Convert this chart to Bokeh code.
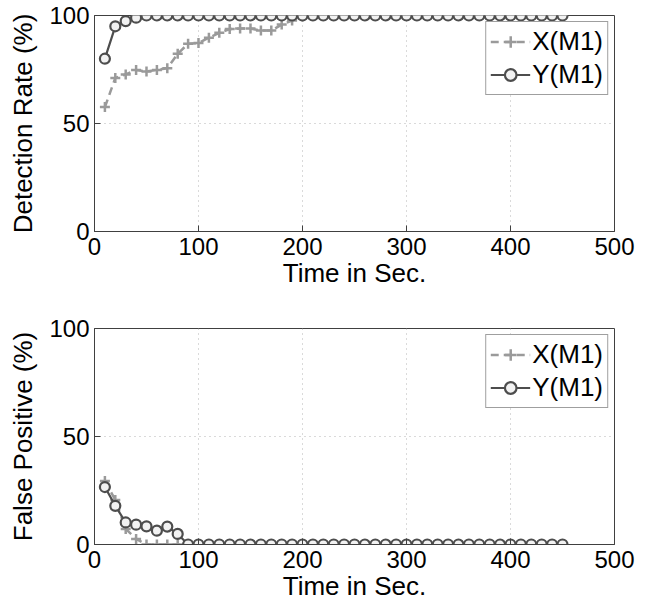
from bokeh.plotting import figure
from bokeh.layouts import column
from bokeh.models import FixedTicker
from bokeh.embed import file_html
from bokeh.resources import INLINE

time = [10, 20, 30, 40, 50, 60, 70, 80, 90, 100, 110, 120, 130, 140, 150,
        160, 170, 180, 190, 200, 210, 220, 230, 240, 250, 260, 270, 280, 290, 300,
        310, 320, 330, 340, 350, 360, 370, 380, 390, 400, 410, 420, 430, 440, 450]

det_x = [57.6, 71.1, 72.7, 74.8, 74.1, 74.8, 75.6, 82.3, 86.9, 87.3, 89.7, 92.0, 93.7, 94.0, 94.0,
         93.0, 93.0, 95.8, 97.7, 99.5, 100, 100, 100, 100, 100, 100, 100, 100, 100, 100,
         100, 100, 100, 100, 100, 100, 100, 100, 100, 100, 100, 100, 100, 100, 100]
det_y = [80.0, 95.0, 97.4, 99.0, 100, 100, 100, 100, 100, 100, 100, 100, 100, 100, 100,
         100, 100, 100, 100, 100, 100, 100, 100, 100, 100, 100, 100, 100, 100, 100,
         100, 100, 100, 100, 100, 100, 100, 100, 100, 100, 100, 100, 100, 100, 100]

fp_x = [29.4, 20.6, 7.2, 2.6, 0, 0, 0, 0, 0, 0, 0, 0, 0, 0, 0,
        0, 0, 0, 0, 0, 0, 0, 0, 0, 0, 0, 0, 0, 0, 0,
        0, 0, 0, 0, 0, 0, 0, 0, 0, 0, 0, 0, 0, 0, 0]
fp_y = [26.6, 17.9, 10.2, 9.2, 8.4, 6.4, 8.3, 4.9, 0, 0, 0, 0, 0, 0, 0,
        0, 0, 0, 0, 0, 0, 0, 0, 0, 0, 0, 0, 0, 0, 0,
        0, 0, 0, 0, 0, 0, 0, 0, 0, 0, 0, 0, 0, 0, 0]

x_ticks = [0, 100, 200, 300, 400, 500]
y_ticks = [0, 50, 100]
labels = ["X(M1)", "Y(M1)"]

FONT = "Liberation Sans"
LIGHT = "#9a9a9a"
DARK = "#4d4d4d"
FRAME = "#404040"


def make_plot(height, top, bottom, ylabel, xs, ys):
    p = figure(width=646, height=height, x_range=(0, 500), y_range=(0, 100),
               output_backend="svg", toolbar_location=None,
               min_border_left=94, min_border_right=32,
               min_border_top=top, min_border_bottom=bottom)
    p.background_fill_color = "white"
    p.border_fill_color = "white"
    p.outline_line_color = FRAME
    p.outline_line_width = 1
    p.outline_line_alpha = 1

    p.xaxis.ticker = FixedTicker(ticks=x_ticks)
    p.yaxis.ticker = FixedTicker(ticks=y_ticks)
    for ax in list(p.xaxis) + list(p.yaxis):
        ax.major_label_text_font = FONT
        ax.major_label_text_font_size = "24px"
        ax.major_label_text_color = "black"
        ax.axis_label_text_font = FONT
        ax.axis_label_text_font_size = "26px"
        ax.axis_label_text_font_style = "normal"
        ax.axis_label_text_color = "black"
        ax.major_tick_in = 6
        ax.major_tick_out = 0
        ax.minor_tick_line_color = None
        ax.axis_line_color = FRAME
        ax.major_tick_line_color = FRAME
    p.xaxis.axis_label = "Time in Sec."
    p.xaxis.major_label_standoff = 6
    p.xaxis.axis_label_standoff = 0
    p.yaxis.axis_label = ylabel
    p.yaxis.major_label_standoff = 5
    p.yaxis.axis_label_standoff = 8

    p.xgrid.grid_line_color = "#b5b5b5"
    p.ygrid.grid_line_color = "#b5b5b5"
    p.xgrid.grid_line_dash = "1 4"
    p.ygrid.grid_line_dash = "1 4"
    p.xgrid.grid_line_width = 1
    p.ygrid.grid_line_width = 1

    p.line(time, xs, line_color=LIGHT, line_width=2.5, line_dash="8 5", legend_label=labels[0])
    p.scatter(time, xs, marker="cross", size=10, line_color=LIGHT, line_width=2.5,
              legend_label=labels[0])
    p.line(time, ys, line_color=DARK, line_width=2.2, legend_label=labels[1])
    p.scatter(time, ys, marker="circle", size=10, line_color=DARK, fill_color="#f2f2f2",
              line_width=2.2, legend_label=labels[1])

    lg = p.legend[0]
    lg.location = "top_right"
    lg.margin = 6
    lg.padding = 4
    lg.spacing = 2
    lg.border_line_color = FRAME
    lg.border_line_width = 1
    lg.background_fill_color = "white"
    lg.background_fill_alpha = 1
    lg.label_text_font = FONT
    lg.label_text_font_size = "26px"
    lg.label_text_color = "black"
    lg.glyph_width = 40
    lg.glyph_height = 29
    lg.label_height = 29
    lg.label_standoff = 2
    return p


p1 = make_plot(300, 15, 69, "Detection Rate (%)", det_x, det_y)
p2 = make_plot(304, 28, 60, "False Positive (%)", fp_x, fp_y)

layout = column(p1, p2, spacing=0)
open("out.html", "w").write(file_html(layout, INLINE))
